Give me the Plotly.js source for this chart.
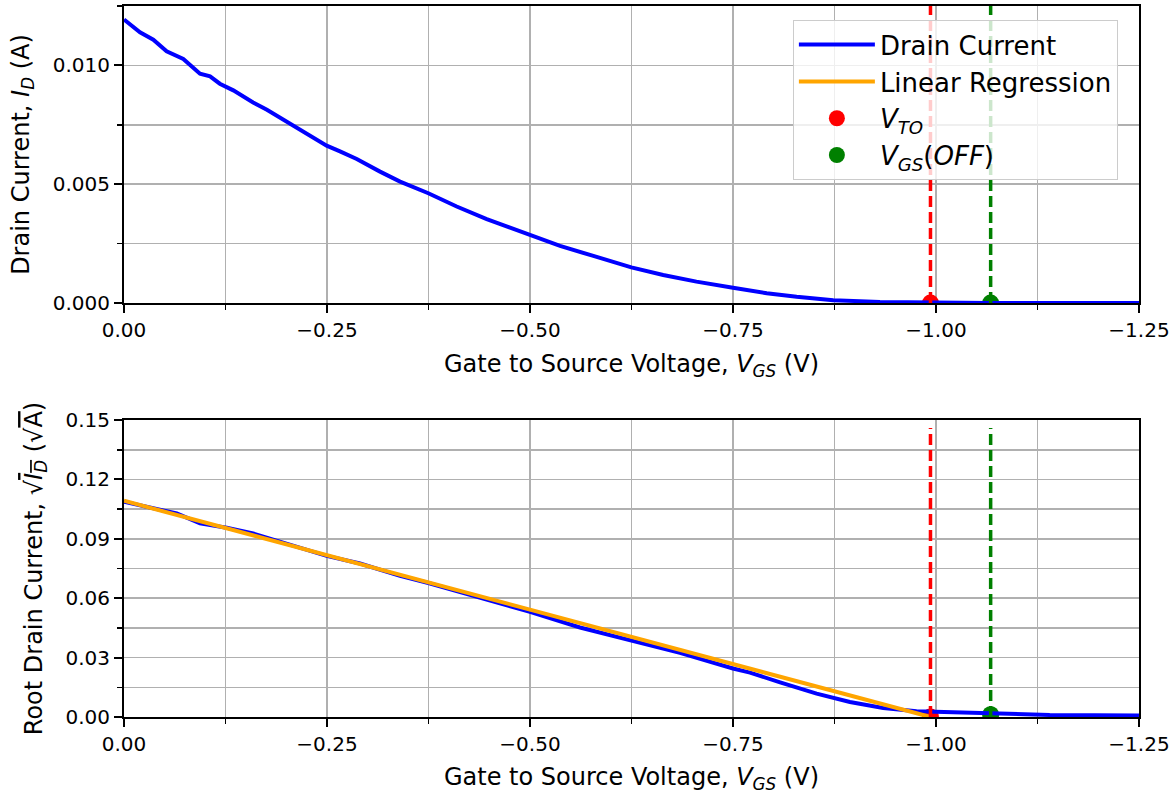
<!DOCTYPE html>
<html><head><meta charset="utf-8">
<script src="https://cdn.plot.ly/plotly-3.0.1.min.js"></script>
<style>html,body{margin:0;padding:0;background:#fff}</style>
</head><body><div id="chart" style="width:1176px;height:794px"></div>
<script>
// ---- data ----
const vgsTop = [0, -0.0197, -0.0361, -0.0525, -0.073, -0.0813, -0.0936, -0.106, -0.118, -0.1346, -0.147, -0.159, -0.176, -0.196, -0.2127, -0.233, -0.2496, -0.266, -0.2866, -0.3153, -0.34, -0.3748, -0.4097, -0.4467, -0.4795, -0.5, -0.537, -0.578, -0.6248, -0.664, -0.705, -0.75, -0.7915, -0.8284, -0.8735, -0.931, -0.993, -1.067, -1.15, -1.25];
const drainCurrent = [0.01193, 0.01139, 0.01108, 0.01059, 0.01027, 0.01003, 0.00965, 0.00954, 0.00923, 0.00895, 0.00867, 0.00844, 0.00813, 0.00771, 0.00736, 0.00694, 0.00662, 0.00638, 0.00606, 0.00553, 0.00511, 0.00462, 0.00406, 0.00353, 0.00311, 0.00287, 0.00240, 0.00198, 0.00150, 0.00118, 0.00090, 0.00064, 0.00041, 0.00026, 0.00012, 0.00004, 0.000012, 0.000004, 0.000002, 0.000001];

const vgsBot = [0, -0.032, -0.065, -0.0936, -0.1265, -0.159, -0.196, -0.2496, -0.2906, -0.3153, -0.34, -0.3748, -0.4384, -0.5, -0.5616, -0.6248, -0.6847, -0.75, -0.771, -0.808, -0.853, -0.894, -0.935, -0.976, -1.017, -1.058, -1.099, -1.14, -1.25];
const rootDrainCurrent = [0.1087, 0.1059, 0.1028, 0.0978, 0.0956, 0.0927, 0.0880, 0.0814, 0.0775, 0.0742, 0.0713, 0.0677, 0.0604, 0.0531, 0.0452, 0.0388, 0.0324, 0.0245, 0.0224, 0.0175, 0.0118, 0.0076, 0.0046, 0.0029, 0.0024, 0.0020, 0.0014, 0.0010, 0.0008];

const VTO = -0.9932;
const VGS_OFF = -1.0673;
const regX = [0, VTO];
const regY = [0.1092, 0];

const vtoTopY = [0];
const voffTopY = [0.000004];
const vtoBotY = [0];
const voffBotY = [0.0012];
const vlineTopY = [0, 0.0130];
const vlineBotY = [0, 0.146];

const xTickVals = [0, -0.25, -0.5, -0.75, -1.0, -1.25];
const xTickText = ["0.00", "\u22120.25", "\u22120.50", "\u22120.75", "\u22121.00", "\u22121.25"];
const yTopTickVals = [0, 0.005, 0.010];
const yTopTickText = ["0.000", "0.005", "0.010"];
const yBotTickVals = [0, 0.03, 0.06, 0.09, 0.12, 0.15];
const yBotTickText = ["0.00", "0.03", "0.06", "0.09", "0.12", "0.15"];

// ---- styles ----
const FONT = "DejaVu Sans, sans-serif";
const BLUE = "#0000ff", ORANGE = "#ffa500", RED = "#ff0000", GREEN = "#008000";
const MS = 17;
const DASH = "11px,5px";

const traces = [
  // markers first (drawn under lines, like matplotlib zorder)
  {x: [VTO], y: vtoTopY, xaxis: "x", yaxis: "y", mode: "markers", marker: {color: RED, size: MS},
   name: "<i>V</i><sub><i>TO</i></sub>", legendgroup: "vto", legendrank: 3, cliponaxis: true},
  {x: [VGS_OFF], y: voffTopY, xaxis: "x", yaxis: "y", mode: "markers", marker: {color: GREEN, size: MS},
   name: "<i>V</i><sub><i>GS</i></sub>(<i>OFF</i>)", legendgroup: "voff", legendrank: 4, cliponaxis: true},
  {x: [VTO], y: vtoBotY, xaxis: "x2", yaxis: "y2", mode: "markers", marker: {color: RED, size: MS},
   showlegend: false, legendgroup: "vto", cliponaxis: true},
  {x: [VGS_OFF], y: voffBotY, xaxis: "x2", yaxis: "y2", mode: "markers", marker: {color: GREEN, size: MS},
   showlegend: false, legendgroup: "voff", cliponaxis: true},
  // curves
  {x: vgsTop, y: drainCurrent, xaxis: "x", yaxis: "y", mode: "lines", line: {color: BLUE, width: 4},
   name: "Drain Current", legendgroup: "id", legendrank: 1},
  {x: vgsBot, y: rootDrainCurrent, xaxis: "x2", yaxis: "y2", mode: "lines", line: {color: BLUE, width: 4},
   showlegend: false, legendgroup: "id"},
  {x: regX, y: regY, xaxis: "x2", yaxis: "y2", mode: "lines", line: {color: ORANGE, width: 4},
   name: "Linear Regression", legendrank: 2},
  // dashed vertical lines
  {x: [VTO, VTO], y: vlineTopY, xaxis: "x", yaxis: "y", mode: "lines", line: {color: RED, width: 3.5, dash: DASH}, showlegend: false, hoverinfo: "skip"},
  {x: [VGS_OFF, VGS_OFF], y: vlineTopY, xaxis: "x", yaxis: "y", mode: "lines", line: {color: GREEN, width: 3.5, dash: DASH}, showlegend: false, hoverinfo: "skip"},
  {x: [VTO, VTO], y: vlineBotY, xaxis: "x2", yaxis: "y2", mode: "lines", line: {color: RED, width: 3.5, dash: DASH}, showlegend: false, hoverinfo: "skip"},
  {x: [VGS_OFF, VGS_OFF], y: vlineBotY, xaxis: "x2", yaxis: "y2", mode: "lines", line: {color: GREEN, width: 3.5, dash: DASH}, showlegend: false, hoverinfo: "skip"}
];

const GRID = "#b0b0b0";
function xAxis(anchor) {
  return {
    anchor: anchor, range: [0, -1.25], tickvals: xTickVals, ticktext: xTickText,
    showline: true, mirror: true, linecolor: "black", linewidth: 2,
    ticks: "outside", ticklen: 8, tickwidth: 2, tickcolor: "black",
    showgrid: true, gridcolor: GRID, gridwidth: 1.6, zeroline: false,
    minor: {dtick: 0.125, tick0: 0, ticks: "outside", ticklen: 5, tickwidth: 1.6, tickcolor: "black", showgrid: true, gridcolor: GRID, gridwidth: 1.6},
    tickfont: {family: FONT, size: 20, color: "black"},
    title: {text: "Gate to Source Voltage, <i>V</i><sub><i>GS</i></sub> (V)", font: {family: FONT, size: 24, color: "black"}, standoff: 14}
  };
}
function yAxis(anchor, domain, range, tv, tt, dminor, title) {
  return {
    anchor: anchor, domain: domain, range: range, tickvals: tv, ticktext: tt,
    showline: true, mirror: true, linecolor: "black", linewidth: 2,
    ticks: "outside", ticklen: 8, tickwidth: 2, tickcolor: "black",
    showgrid: true, gridcolor: GRID, gridwidth: 1.6, zeroline: false,
    minor: {dtick: dminor, tick0: 0, ticks: "outside", ticklen: 5, tickwidth: 1.6, tickcolor: "black", showgrid: true, gridcolor: GRID, gridwidth: 1.6},
    tickfont: {family: FONT, size: 20, color: "black"},
    title: {text: title, font: {family: FONT, size: 24, color: "black"}, standoff: 16}
  };
}

const layout = {
  width: 1176, height: 794,
  margin: {l: 124, r: 37, t: 6, b: 77, autoexpand: false},
  paper_bgcolor: "white", plot_bgcolor: "white",
  font: {family: FONT, color: "black"},
  showlegend: true,
  legend: {
    x: 0.659, y: 0.980, xanchor: "left", yanchor: "top",
    bgcolor: "rgba(255,255,255,0.8)", bordercolor: "#cccccc", borderwidth: 1,
    font: {family: FONT, size: 26, color: "black"}, itemwidth: 76, tracegroupgap: 0
  },
  xaxis: xAxis("y"),
  yaxis: yAxis("x", [0.5823, 1], [0, 0.0125], yTopTickVals, yTopTickText, 0.0025,
    "Drain Current, <i>I</i><sub><i>D</i></sub> (A)"),
  xaxis2: xAxis("y2"),
  yaxis2: yAxis("x2", [0, 0.4177], [0, 0.15], yBotTickVals, yBotTickText, 0.015,
    "Root Drain Current, \u221A<span style=\"text-decoration:overline\"><i>I</i><sub><i>D</i></sub></span> (\u221A<span style=\"text-decoration:overline\">A</span>)")
};

Plotly.newPlot("chart", traces, layout, {displayModeBar: false, staticPlot: true});
</script></body></html>
